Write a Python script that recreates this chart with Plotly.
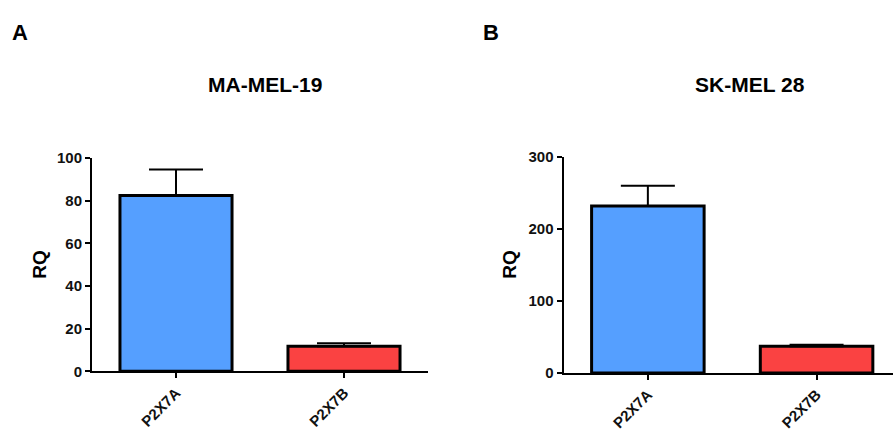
import plotly.graph_objects as go

categories = ["P2X7A", "P2X7B"]
mel19_values = [82.4, 11.8]
mel19_err = [12.2, 1.4]
sk28_values = [232, 37]
sk28_err = [28, 2.2]
colors = ["#559fff", "#fa4242"]
mel19_ticks = [0, 20, 40, 60, 80, 100]
sk28_ticks = [0, 100, 200, 300]

W, H = 893, 437
FONT = "Arial, Liberation Sans, sans-serif"

fig = go.Figure()
fig.add_trace(go.Bar(
    x=categories, y=mel19_values, xaxis="x", yaxis="y",
    marker=dict(color=colors, line=dict(color="black", width=3)),
    width=0.667,
    error_y=dict(type="data", symmetric=False, array=mel19_err, arrayminus=[0, 0],
                 color="black", thickness=2, width=27),
))
fig.add_trace(go.Bar(
    x=categories, y=sk28_values, xaxis="x2", yaxis="y2",
    marker=dict(color=colors, line=dict(color="black", width=3)),
    width=0.667,
    error_y=dict(type="data", symmetric=False, array=sk28_err, arrayminus=[0, 0],
                 color="black", thickness=2, width=27),
))

def px_x(p):
    return p / W

def px_y(p):
    return (H - p) / H

axis_common = dict(showline=True, linecolor="black", linewidth=2, ticks="outside",
                   ticklen=5, tickwidth=2, tickcolor="black", showgrid=False,
                   zeroline=False, tickfont=dict(family=FONT, size=15, color="#111", weight="bold"))

fig.update_layout(
    width=W, height=H, margin=dict(l=0, r=0, t=0, b=0),
    paper_bgcolor="white", plot_bgcolor="white", showlegend=False,
    xaxis=dict(domain=[px_x(92), px_x(428)], range=[-0.5, 1.5], anchor="y",
               tickangle=-45, **axis_common),
    yaxis=dict(domain=[px_y(377), px_y(155)], range=[0, 100], anchor="x",
               tickvals=mel19_ticks, **axis_common),
    xaxis2=dict(domain=[px_x(563.5), 1], range=[-0.5, 1.453], anchor="y2",
                tickangle=-45, **axis_common),
    yaxis2=dict(domain=[px_y(378.7), px_y(154)], range=[0, 300], anchor="x2",
                tickvals=sk28_ticks, **axis_common),
)

ann = []
def add_text(text, x, y, size, angle=0):
    ann.append(dict(text=text, x=px_x(x), y=px_y(y), xref="paper", yref="paper",
                    showarrow=False, textangle=angle, xanchor="center", yanchor="middle",
                    font=dict(family=FONT, size=size, color="black", weight="bold")))

add_text("A", 19.5, 24, 22)
add_text("B", 491, 24, 22)
add_text("MA-MEL-19", 265, 79, 21)
add_text("SK-MEL 28", 750, 79, 21)
add_text("RQ", 40, 266, 19, -90)
add_text("RQ", 510, 266, 19, -90)
fig.update_layout(annotations=ann)

fig.write_html(
    "out.html",
    config={"displayModeBar": False},
    post_script=("document.documentElement.style.margin='0';"
                 "document.documentElement.style.padding='0';"
                 "document.documentElement.style.overflow='hidden';"
                 "document.body.style.margin='0';"
                 "document.body.style.padding='0';"
                 "document.body.style.overflow='hidden';"),
)
